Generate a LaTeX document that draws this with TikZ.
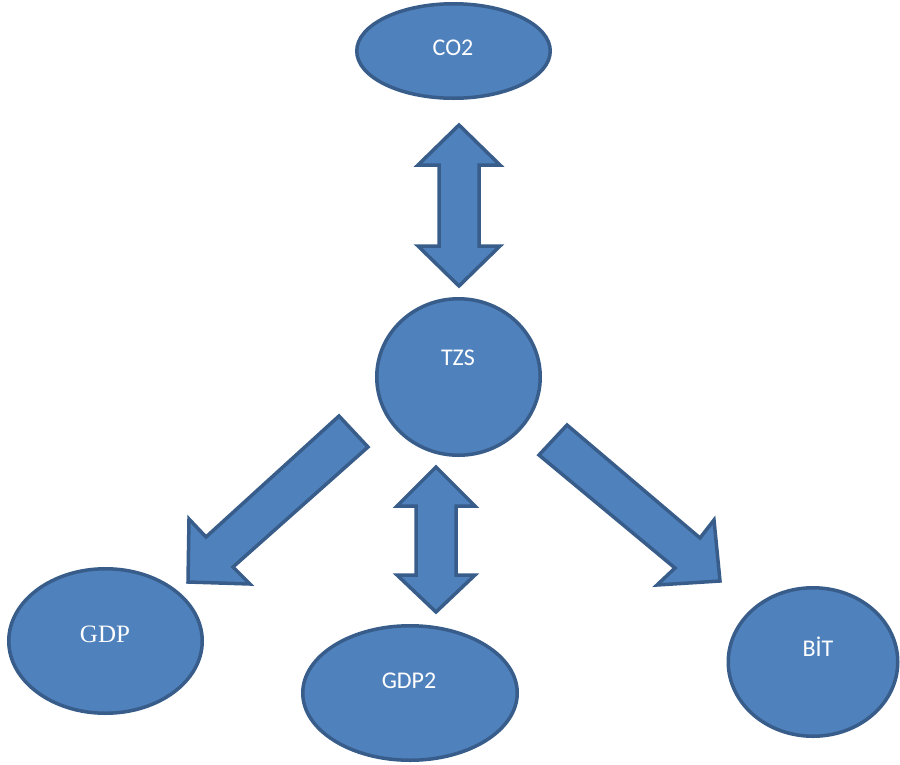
\documentclass[tikz,border=0pt]{standalone}
\usepackage{fontspec}
\setmainfont{Carlito}
\newfontfamily\serifface{Liberation Serif}
\usetikzlibrary{shapes.geometric}
\definecolor{fillblue}{HTML}{4F81BD}
\definecolor{edgeblue}{HTML}{385D8A}
\tikzset{
  oval/.style={ellipse, draw=edgeblue, fill=fillblue, line width=3.5pt, inner sep=0pt},
  blockarrow/.style={draw=edgeblue, fill=fillblue, line width=3.5pt, line join=miter},
  lbl/.style={text=white, font=\fontsize{24}{27}\selectfont, inner sep=0pt}
}
\begin{document}
\begin{tikzpicture}[x=1pt,y=-1pt]
\useasboundingbox (0,0) rectangle (900,764);
% ellipses
\node[oval, minimum width=193.5pt, minimum height=94.5pt] (co2) at (453.5,51) {};
\node[oval, minimum width=163.5pt, minimum height=156.5pt] (tzs) at (458.5,377) {};
\node[oval, minimum width=193.5pt, minimum height=144.5pt] (gdp) at (105.5,641) {};
\node[oval, minimum width=214.5pt, minimum height=134.5pt] (gdp2) at (410,693) {};
\node[oval, minimum width=169.5pt, minimum height=148.5pt] (bit) at (813,662) {};
% labels
\node[lbl] (tco2) at (453,48) {CO2};
\node[lbl] (ttzs) at (458,358) {TZS};
\node[lbl, font=\serifface\fontsize{25}{28}\selectfont] (tgdp) at (105,634) {GDP};
\node[lbl] (tgdp2) at (409,681) {GDP2};
\node[lbl] (tbit) at (818,647) {BİT};
% top double arrow
\draw[blockarrow] (459,125) -- (500,165) -- (479,165) -- (479,246) -- (500,246)
  -- (459,286) -- (418,246) -- (439,246) -- (439,165) -- (418,165) -- cycle;
% lower double arrow
\draw[blockarrow] (436,467) -- (475,506) -- (456,506) -- (456,575) -- (475,575)
  -- (436,612) -- (397,575) -- (416,575) -- (416,506) -- (397,506) -- cycle;
% left diagonal arrow
\draw[blockarrow] (339,416) -- (368,447) -- (233,567) -- (250,584) -- (188,582)
  -- (189,519) -- (206,537) -- cycle;
% right diagonal arrow
\draw[blockarrow] (539,455) -- (567,425) -- (700,538) -- (714,520) -- (720,581)
  -- (657,585) -- (675,568) -- cycle;
\end{tikzpicture}
\end{document}
